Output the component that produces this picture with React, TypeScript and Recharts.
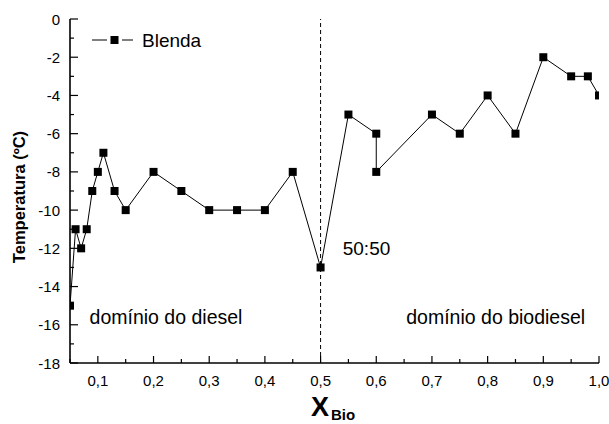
import { LineChart, Line, XAxis, YAxis, ReferenceLine, ReferenceDot, Legend } from "recharts";

// fraction of biodiesel in the blend and the measured temperature (ºC)
const xBio = [0.05, 0.06, 0.07, 0.08, 0.09, 0.1, 0.11, 0.13, 0.15, 0.2, 0.25, 0.3, 0.35, 0.4, 0.45, 0.5, 0.55, 0.6, 0.6, 0.7, 0.75, 0.8, 0.85, 0.9, 0.95, 0.98, 1.0];
const temperatura = [-15, -11, -12, -11, -9, -8, -7, -9, -10, -8, -9, -10, -10, -10, -8, -13, -5, -6, -8, -5, -6, -4, -6, -2, -3, -3, -4];

const xTicks = [0.05, 0.1, 0.15, 0.2, 0.25, 0.3, 0.35, 0.4, 0.45, 0.5, 0.55, 0.6, 0.65, 0.7, 0.75, 0.8, 0.85, 0.9, 0.95, 1.0];
const yTicks = [-18, -17, -16, -15, -14, -13, -12, -11, -10, -9, -8, -7, -6, -5, -4, -3, -2, -1, 0];

const data = xBio.map((x, i) => ({ x, t: temperatura[i] }));

const FONT = "'Liberation Sans', Arial, sans-serif";

const isMajorX = (v: number) => Math.abs(v * 10 - Math.round(v * 10)) < 1e-6;
const isMajorY = (v: number) => v % 2 === 0;

function BottomTick({ x, y, payload }: any) {
  const v = payload.value as number;
  const major = isMajorX(v);
  return (
    <g>
      <line x1={x} x2={x} y1={y} y2={y - (major ? 7 : 4)} stroke="#000" strokeWidth={1.2} />
      {major && (
        <text x={x} y={y + 23} textAnchor="middle" fontSize={15} fontFamily={FONT} fill="#000">
          {v.toFixed(1).replace(".", ",")}
        </text>
      )}
    </g>
  );
}

function TopTick({ x, y, payload }: any) {
  const major = isMajorX(payload.value);
  return <line x1={x} x2={x} y1={y} y2={y + (major ? 5 : 3)} stroke="#555" strokeWidth={0.8} />;
}

function LeftTick({ x, y, payload }: any) {
  const v = payload.value as number;
  const major = isMajorY(v);
  return (
    <g>
      <line x1={x} x2={x + (major ? 8 : 4)} y1={y} y2={y} stroke="#000" strokeWidth={1.2} />
      {major && (
        <text x={x - 10} y={y + 5.5} textAnchor="end" fontSize={15} fontFamily={FONT} fill="#000">
          {v}
        </text>
      )}
    </g>
  );
}

function RightTick({ x, y, payload }: any) {
  const major = isMajorY(payload.value);
  return <line x1={x} x2={x - (major ? 5 : 3)} y1={y} y2={y} stroke="#555" strokeWidth={0.8} />;
}

function Square({ cx, cy }: any) {
  if (cx == null || cy == null) return null;
  return <rect x={cx - 4} y={cy - 4} width={8} height={8} fill="#000" />;
}

function BlendaLegend() {
  return (
    <svg width={130} height={24} style={{ display: "block" }}>
      <line x1={1} x2={16} y1={10} y2={10} stroke="#000" strokeWidth={1} />
      <rect x={19.5} y={6} width={8} height={8} fill="#000" />
      <line x1={31} x2={42} y1={10} y2={10} stroke="#000" strokeWidth={1} />
      <text x={51} y={16.5} fontSize={19} fontFamily={FONT} fill="#000">
        Blenda
      </text>
    </svg>
  );
}

export default function App() {
  return (
    <div style={{ width: 609, height: 424, position: "relative", background: "#fff" }}>
      <style>{"body{margin:0}"}</style>
      <LineChart width={609} height={424} data={data} margin={{ top: 19, right: 10, bottom: 0, left: 0 }}>
        <XAxis
          dataKey="x"
          type="number"
          domain={[0.05, 1.0]}
          ticks={xTicks}
          interval={0}
          allowDataOverflow
          height={61}
          tickSize={0}
          tickMargin={0}
          tickLine={false}
          axisLine={{ stroke: "#000", strokeWidth: 1.6 }}
          tick={<BottomTick />}
        />
        <XAxis
          xAxisId="top"
          orientation="top"
          type="number"
          domain={[0.05, 1.0]}
          ticks={xTicks}
          interval={0}
          allowDataOverflow
          height={0}
          tickSize={0}
          tickMargin={0}
          tickLine={false}
          axisLine={{ stroke: "#000", strokeWidth: 1.6 }}
          tick={<TopTick />}
        />
        <YAxis
          type="number"
          domain={[-18, 0]}
          ticks={yTicks}
          interval={0}
          allowDataOverflow
          width={70}
          tickSize={0}
          tickMargin={0}
          tickLine={false}
          axisLine={{ stroke: "#000", strokeWidth: 1.6 }}
          tick={<LeftTick />}
        />
        <YAxis
          yAxisId="right"
          orientation="right"
          type="number"
          domain={[-18, 0]}
          ticks={yTicks}
          interval={0}
          allowDataOverflow
          width={0}
          tickSize={0}
          tickMargin={0}
          tickLine={false}
          axisLine={{ stroke: "#000", strokeWidth: 1.6 }}
          tick={<RightTick />}
        />
        <ReferenceLine x={0.5} stroke="#000" strokeWidth={1} strokeDasharray="4 3" />
        <ReferenceDot
          x={0.5825}
          y={-12}
          r={0}
          fill="none"
          stroke="none"
          label={{ value: "50:50", position: "center", fontSize: 19, fontFamily: FONT, fill: "#000" }}
        />
        <ReferenceDot
          x={0.2224}
          y={-15.6}
          r={0}
          fill="none"
          stroke="none"
          label={{ value: "domínio do diesel", position: "center", fontSize: 19.5, fontFamily: FONT, fill: "#000" }}
        />
        <ReferenceDot
          x={0.8145}
          y={-15.6}
          r={0}
          fill="none"
          stroke="none"
          label={{ value: "domínio do biodiesel", position: "center", fontSize: 19.5, fontFamily: FONT, fill: "#000" }}
        />
        <Legend
          layout="vertical"
          align="center"
          verticalAlign="middle"
          content={<BlendaLegend />}
          wrapperStyle={{ position: "absolute", left: 91, top: 30, width: 130 }}
        />
        <Line
          dataKey="t"
          type="linear"
          stroke="#000"
          strokeWidth={1}
          dot={<Square />}
          activeDot={false}
          isAnimationActive={false}
        />
      </LineChart>
      <svg width={609} height={424} style={{ position: "absolute", left: 0, top: 0, pointerEvents: "none" }}>
        <text
          x={25}
          y={197}
          transform="rotate(-90 25 197)"
          textAnchor="middle"
          fontSize={16.5}
          fontWeight="bold"
          fontFamily={FONT}
          fill="#000"
        >
          Temperatura (ºC)
        </text>
        <text x={311} y={416} fontSize={27} fontWeight="bold" fontFamily={FONT} fill="#000">
          X
        </text>
        <text x={331} y={420} fontSize={15} fontWeight="bold" fontFamily={FONT} fill="#000">
          Bio
        </text>
      </svg>
    </div>
  );
}
